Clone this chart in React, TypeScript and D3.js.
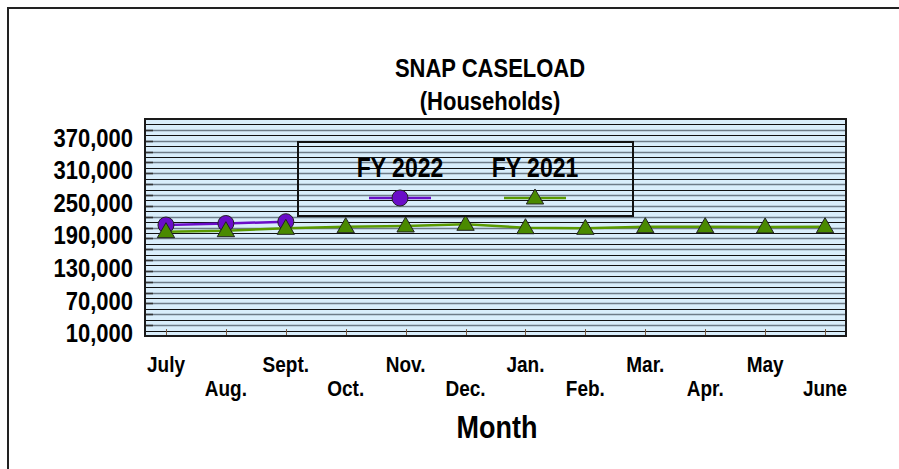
import React, { useRef, useEffect } from 'react';
import * as d3 from 'd3';

const months = ["July", "Aug.", "Sept.", "Oct.", "Nov.", "Dec.", "Jan.", "Feb.", "Mar.", "Apr.", "May", "June"];
const fy2022 = [214600, 217400, 220700];
const fy2021 = [202300, 204100, 208500, 211500, 212800, 215900, 209600, 208500, 211500, 211500, 211000, 211500];
const yTicks = [10000, 70000, 130000, 190000, 250000, 310000, 370000];
const seriesNames = ["FY 2022", "FY 2021"];

const FONT = "'Liberation Sans', Arial, sans-serif";
const STRETCH = 1.17; // the source text is a bit taller than plain Arial

const App = () => {
    const ref = useRef<HTMLDivElement>(null);

    useEffect(() => {
        d3.select(ref.current).select("svg").remove();

        const W = 899, H = 469;
        const plot = { left: 145, right: 846, top: 119, bottom: 336 };

        const svg = d3.select(ref.current)
            .append("svg")
            .attr("width", W)
            .attr("height", H)
            .style("position", "absolute")
            .style("left", 0)
            .style("top", 0)
            .style("font-family", FONT)
            .style("font-weight", "bold");

        svg.append("rect").attr("width", W).attr("height", H).attr("fill", "#fff");

        // outer frame (only top and left visible)
        svg.append("path")
            .attr("d", `M8,${H} V8 H${W}`)
            .attr("fill", "none")
            .attr("stroke", "#222")
            .attr("stroke-width", 2);

        const x = d3.scalePoint<string>()
            .domain(months)
            .range([plot.left, plot.right])
            .padding(0.35);

        const y = d3.scaleLinear()
            .domain([10000, 410000])
            .range([plot.bottom, plot.top]);

        const label = (g: any, tx: number, ty: number, size: number, anchor: string, txt: string) =>
            g.append("text")
                .attr("transform", `translate(${tx},${ty}) scale(1,${STRETCH})`)
                .attr("text-anchor", anchor)
                .attr("dominant-baseline", "central")
                .style("font-size", `${size}px`)
                .text(txt);

        // plot background
        svg.append("rect")
            .attr("x", plot.left)
            .attr("y", plot.top)
            .attr("width", plot.right - plot.left)
            .attr("height", plot.bottom - plot.top)
            .attr("fill", "#d9eefb");

        // grid lines every 10,000, alternating grey / black
        const grid = d3.range(20000, 410000, 10000);
        svg.append("g")
            .selectAll("line")
            .data(grid)
            .enter()
            .append("line")
            .attr("x1", plot.left)
            .attr("x2", plot.right)
            .attr("y1", d => Math.round(y(d)) + 0.5)
            .attr("y2", d => Math.round(y(d)) + 0.5)
            .attr("stroke", d => (d / 10000) % 2 === 0 ? "#111" : "#6e7c88")
            .attr("stroke-width", d => (d / 10000) % 2 === 0 ? 1 : 1.6);

        // small y ticks on grey lines
        svg.append("g")
            .selectAll("line")
            .data(grid.filter(d => (d / 10000) % 2 === 1))
            .enter()
            .append("line")
            .attr("x1", plot.left)
            .attr("x2", plot.left + 8)
            .attr("y1", d => Math.round(y(d)) + 0.5)
            .attr("y2", d => Math.round(y(d)) + 0.5)
            .attr("stroke", "#333")
            .attr("stroke-width", 1.6);

        // x ticks
        svg.append("g")
            .selectAll("line")
            .data(months)
            .enter()
            .append("line")
            .attr("x1", d => Math.round(x(d)!) + 0.5)
            .attr("x2", d => Math.round(x(d)!) + 0.5)
            .attr("y1", plot.bottom)
            .attr("y2", plot.bottom - 7)
            .attr("stroke", "#7a5a40")
            .attr("stroke-width", 1);

        // plot border
        svg.append("rect")
            .attr("x", plot.left)
            .attr("y", plot.top)
            .attr("width", plot.right - plot.left)
            .attr("height", plot.bottom - plot.top)
            .attr("fill", "none")
            .attr("stroke", "#1a1a1a")
            .attr("stroke-width", 2);

        // y labels
        const yg = svg.append("g");
        yTicks.forEach(v => label(yg, 133, y(v) - 3, 22, "end", d3.format(",")(v)));

        // x labels, staggered on two rows
        const xg = svg.append("g");
        months.forEach((m, i) => label(xg, x(m)!, i % 2 === 0 ? 364 : 388, 19, "middle", m));

        // titles
        label(svg, 490, 68, 22, "middle", "SNAP CASELOAD");
        label(svg, 490, 101, 22, "middle", "(Households)");
        label(svg, 497, 427, 27, "middle", "Month");

        const purple = "#6a0dc8";
        const green = "#5a9a00";
        const triangle = d3.symbol().type(d3.symbolTriangle).size(130);

        const line = d3.line<number>()
            .x((d, i) => x(months[i])!)
            .y(d => y(d));

        svg.append("path")
            .datum(fy2021)
            .attr("d", line)
            .attr("fill", "none")
            .attr("stroke", green)
            .attr("stroke-width", 2.5);

        svg.append("path")
            .datum(fy2022)
            .attr("d", line)
            .attr("fill", "none")
            .attr("stroke", purple)
            .attr("stroke-width", 2.5);

        svg.append("g")
            .selectAll("circle")
            .data(fy2022)
            .enter()
            .append("circle")
            .attr("cx", (d, i) => x(months[i])!)
            .attr("cy", d => y(d))
            .attr("r", 8)
            .attr("fill", purple)
            .attr("stroke", "#222")
            .attr("stroke-width", 1);

        svg.append("g")
            .selectAll("path")
            .data(fy2021)
            .enter()
            .append("path")
            .attr("d", triangle)
            .attr("transform", (d, i) => `translate(${x(months[i])},${y(d) + 1})`)
            .attr("fill", "#4a8a00")
            .attr("stroke", "#222")
            .attr("stroke-width", 1);

        // legend
        const lg = svg.append("g");
        lg.append("rect")
            .attr("x", 298).attr("y", 142)
            .attr("width", 335).attr("height", 74)
            .attr("fill", "none")
            .attr("stroke", "#111")
            .attr("stroke-width", 2);

        const legendX = [400, 535];
        seriesNames.forEach((name, i) => {
            const cx = legendX[i];
            label(lg, cx, 167, 23, "middle", name);
            lg.append("line")
                .attr("x1", cx - 31).attr("x2", cx + 31)
                .attr("y1", 198).attr("y2", 198)
                .attr("stroke", i === 0 ? purple : green)
                .attr("stroke-width", 2.5);
            if (i === 0) {
                lg.append("circle")
                    .attr("cx", cx).attr("cy", 198).attr("r", 8)
                    .attr("fill", purple).attr("stroke", "#222").attr("stroke-width", 1);
            } else {
                lg.append("path")
                    .attr("d", triangle)
                    .attr("transform", `translate(${cx},199)`)
                    .attr("fill", "#4a8a00").attr("stroke", "#222").attr("stroke-width", 1);
            }
        });
    }, []);

    return <div ref={ref} />;
};

export default App;
